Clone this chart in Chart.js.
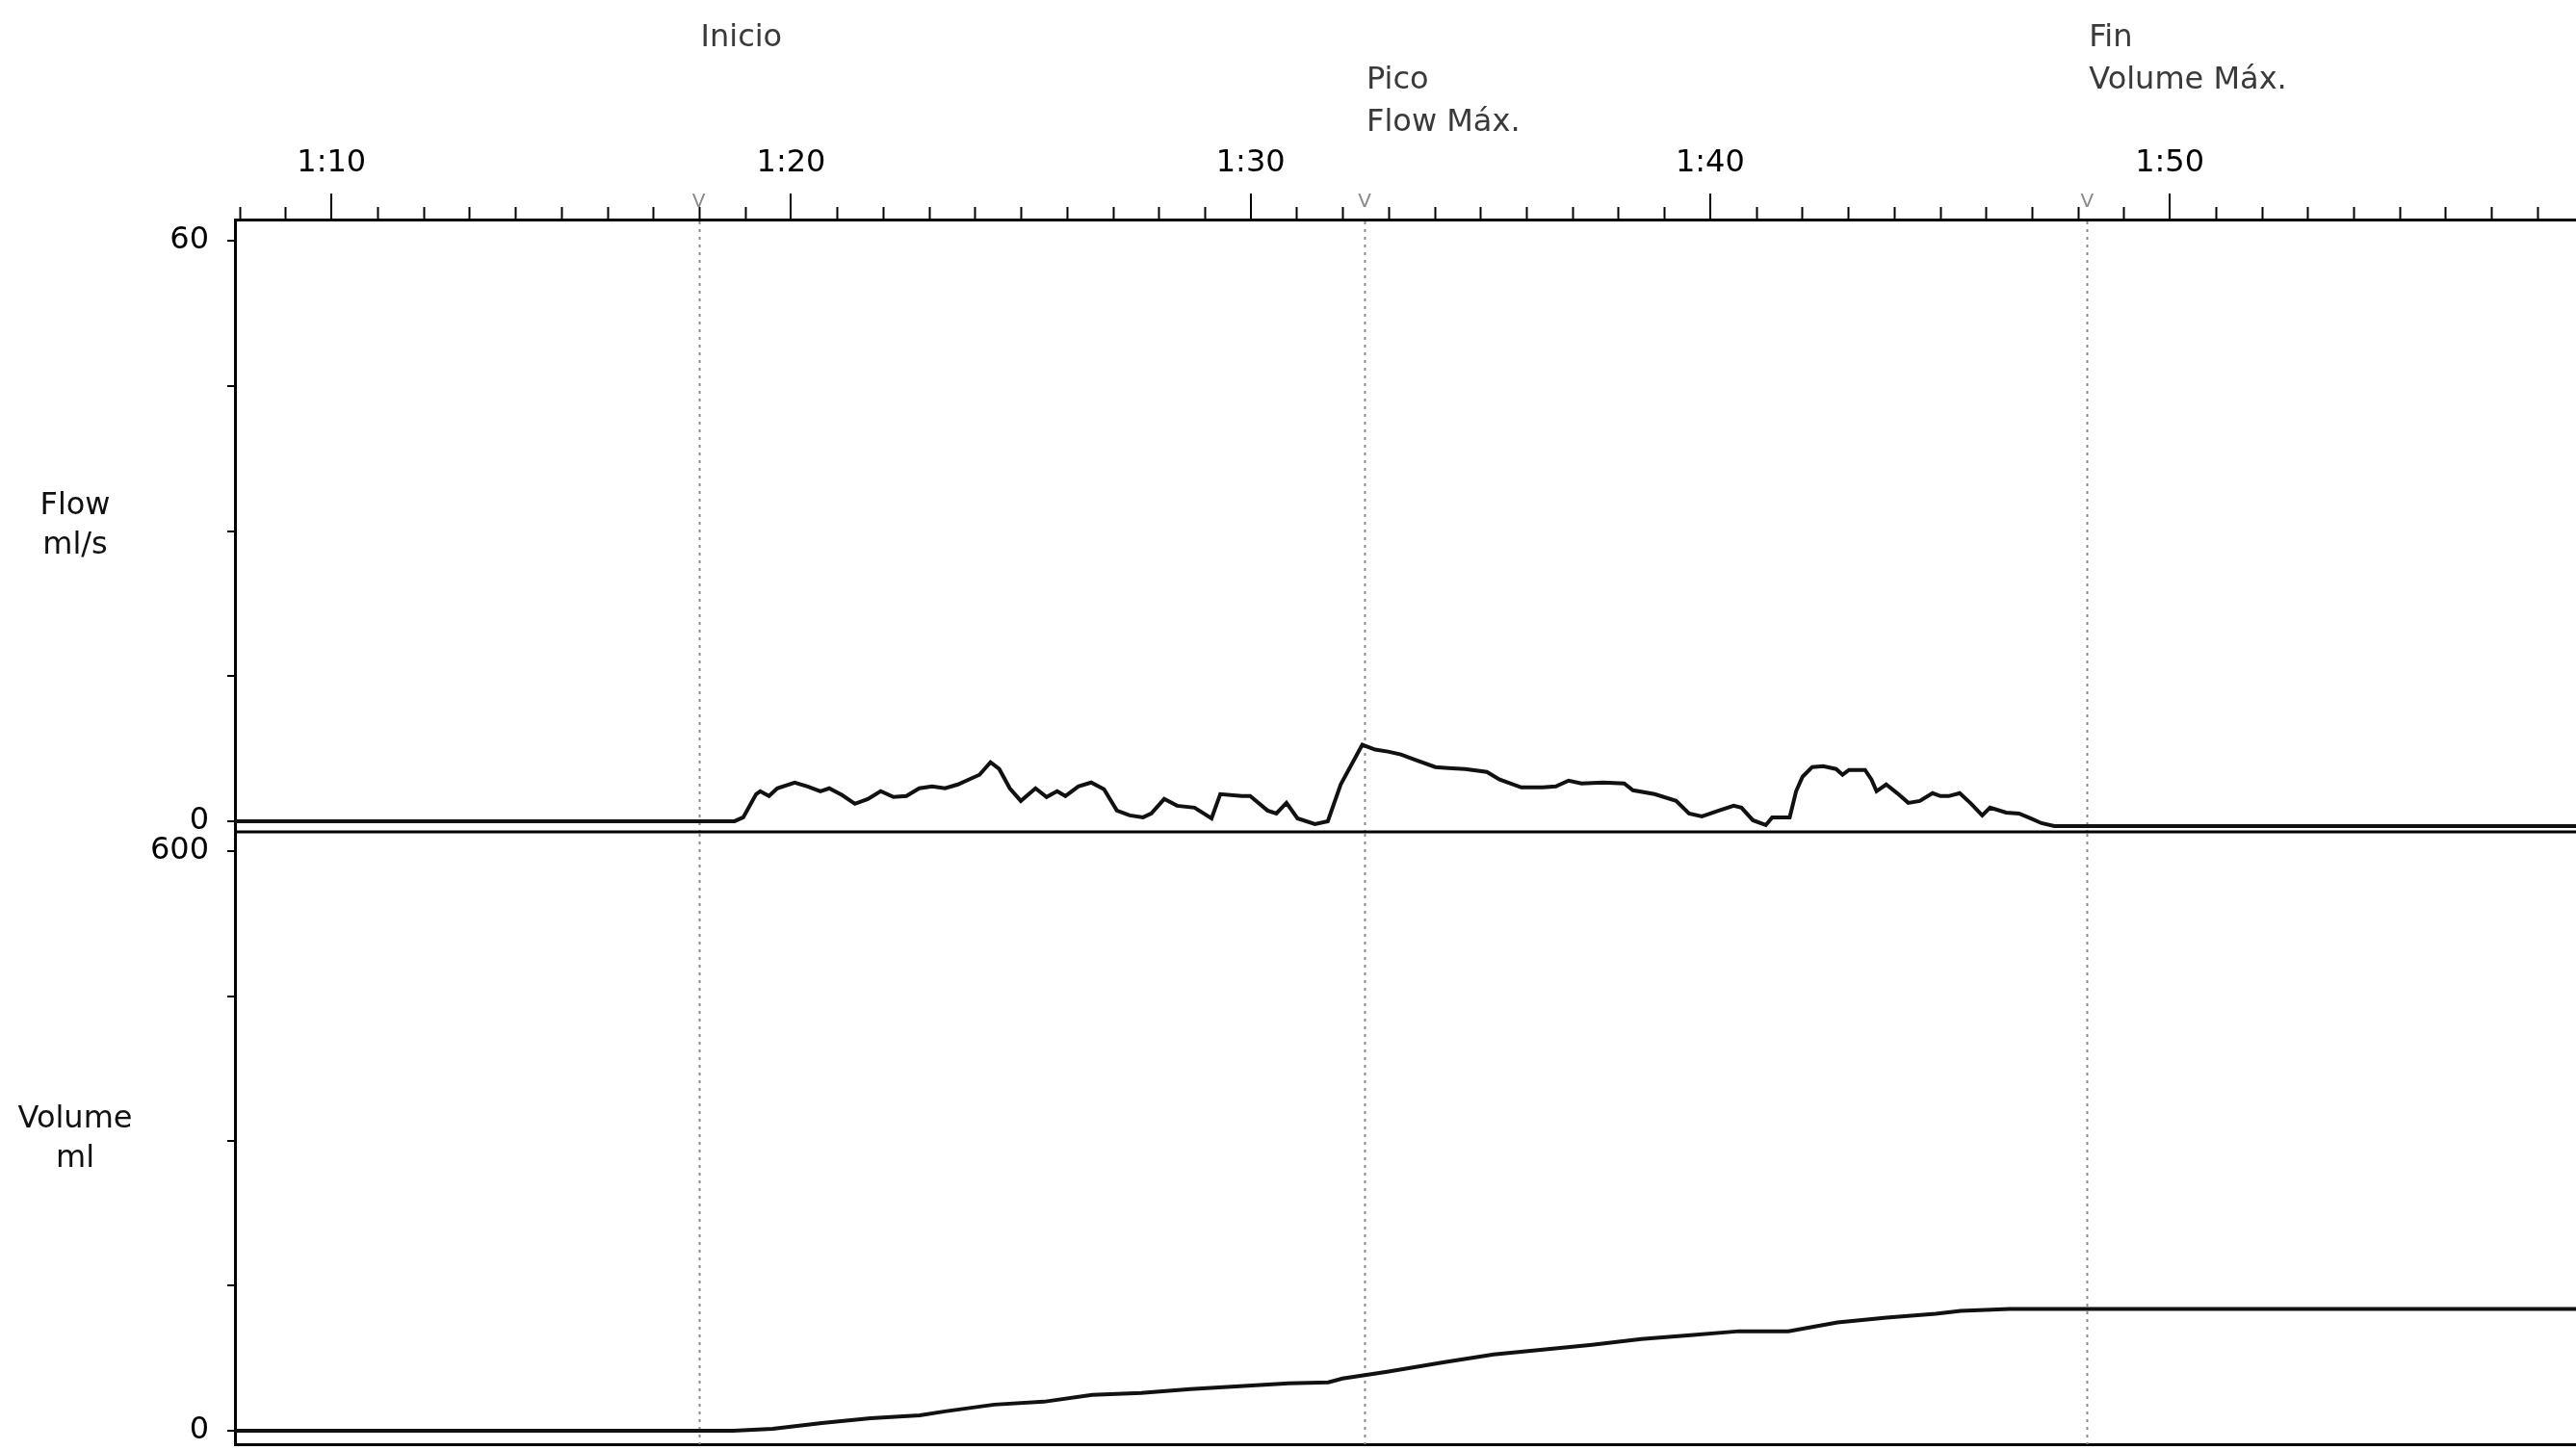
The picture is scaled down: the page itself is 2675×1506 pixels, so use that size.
<!DOCTYPE html>
<html><head><meta charset="utf-8">
<script src="https://cdn.jsdelivr.net/npm/chart.js@4.4.1/dist/chart.umd.min.js"></script>
<style>
html,body{margin:0;padding:0;background:#fff;width:2675px;height:1506px;overflow:hidden;}
#wrap{position:relative;width:2675px;height:1506px;background:#fff;}
canvas{position:absolute;left:0;}
#cFlow{top:0;}
#cVol{top:864px;}
</style></head><body>
<div id="wrap"><canvas id="cFlow" width="2675" height="868"></canvas><canvas id="cVol" width="2675" height="642"></canvas></div>
<script>
// ---- data ----
const timeMin = 67.9, timeMax = 118.84;               // seconds shown on the time axis
const timeTickValues = [70, 80, 90, 100, 110];
const timeTickLabels = ['1:10', '1:20', '1:30', '1:40', '1:50'];
const flowTickValues = [0, 15, 30, 45, 60];
const flowTickLabels = ['0', '', '', '', '60'];
const volumeTickValues = [0, 150, 300, 450, 600];
const volumeTickLabels = ['0', '', '', '', '600'];
const markerTimes = [77.99, 92.48, 108.2];
const markerLabels = [['Inicio'], ['Pico', 'Flow Máx.'], ['Fin', 'Volume Máx.']];
const flowTitle = ['Flow', 'ml/s'];
const volumeTitle = ['Volume', 'ml'];

const flowTimes = [67.9, 77.46, 78.77, 78.96, 79.24, 79.33, 79.52, 79.70, 80.08, 80.36, 80.64, 80.83, 81.11, 81.39, 81.67, 81.95, 82.23, 82.51, 82.79, 83.07, 83.35, 83.63, 83.91, 84.10, 84.34, 84.53, 84.76, 85.00, 85.32, 85.56, 85.79, 85.97, 86.25, 86.53, 86.81, 87.09, 87.37, 87.66, 87.84, 88.12, 88.40, 88.78, 89.15, 89.34, 89.81, 89.99, 90.37, 90.56, 90.78, 91.02, 91.40, 91.68, 91.96, 92.43, 92.71, 92.99, 93.27, 93.55, 94.02, 94.30, 94.67, 95.14, 95.42, 95.89, 96.36, 96.64, 96.92, 97.20, 97.67, 98.13, 98.32, 98.79, 99.26, 99.54, 99.82, 100.19, 100.51, 100.68, 100.93, 101.21, 101.35, 101.73, 101.87, 102.01, 102.22, 102.46, 102.74, 102.88, 103.02, 103.37, 103.51, 103.62, 103.83, 104.07, 104.31, 104.56, 104.84, 105.01, 105.19, 105.43, 105.68, 105.92, 106.09, 106.44, 106.72, 106.97, 107.21, 107.49, 118.84];
const flowValues = [0, 0, 0, 0.4, 2.8, 3.1, 2.6, 3.4, 4.0, 3.6, 3.1, 3.4, 2.7, 1.8, 2.3, 3.1, 2.5, 2.6, 3.4, 3.6, 3.4, 3.8, 4.4, 4.8, 6.1, 5.4, 3.4, 2.1, 3.4, 2.5, 3.1, 2.6, 3.6, 4.0, 3.3, 1.1, 0.6, 0.4, 0.8, 2.3, 1.6, 1.4, 0.3, 2.8, 2.6, 2.6, 1.1, 0.8, 1.9, 0.3, -0.3, 0, 3.8, 7.9, 7.4, 7.2, 6.9, 6.4, 5.6, 5.5, 5.4, 5.1, 4.3, 3.5, 3.5, 3.6, 4.2, 3.9, 4.0, 3.9, 3.2, 2.8, 2.1, 0.8, 0.5, 1.1, 1.6, 1.4, 0.1, -0.4, 0.4, 0.4, 3.1, 4.6, 5.6, 5.7, 5.4, 4.8, 5.3, 5.3, 4.3, 3.1, 3.8, 2.9, 1.9, 2.1, 2.9, 2.6, 2.6, 2.9, 1.8, 0.6, 1.4, 0.9, 0.8, 0.3, -0.2, -0.5, -0.5];

const volumeTimes = [67.9, 78.74, 79.6, 80.67, 81.73, 82.8, 83.35, 84.42, 85.5, 86.55, 87.62, 88.69, 89.76, 90.83, 91.69, 92.0, 92.97, 94.22, 95.29, 96.36, 97.43, 98.5, 99.57, 100.63, 101.7, 102.77, 103.84, 104.91, 105.45, 106.52, 107.6, 118.84];
const volumeValues = [0, 0, 2, 8, 13, 16, 20, 27, 30, 37, 39, 43, 46, 49, 50, 54, 61, 71, 79, 84, 89, 95, 99, 103, 103, 112, 117, 121, 124, 126, 126, 126];

// ---- styling ----
const FONT = "'DejaVu Sans', 'Liberation Sans', sans-serif";
const INK = '#111';

function pairs(xs, ys) { return xs.map((x, i) => ({ x: x, y: ys[i] })); }
function labelFor(values, labels) { return v => { const i = values.indexOf(v); return i >= 0 ? labels[i] : ''; }; }
function zeroPad(s) { s.paddingLeft = 0; s.paddingRight = 0; s.paddingTop = 0; s.paddingBottom = 0; }

function drawMarkerLines(chart, yTop) {
  const { ctx, chartArea: a, scales: { x } } = chart;
  ctx.save();
  ctx.strokeStyle = '#8a8a8a';
  ctx.lineWidth = 2;
  ctx.setLineDash([3, 5]);
  markerTimes.forEach(t => {
    const px = Math.round(x.getPixelForValue(t)) + 0.5;
    ctx.beginPath(); ctx.moveTo(px, yTop); ctx.lineTo(px, a.bottom); ctx.stroke();
  });
  ctx.restore();
}

function drawTitle(ctx, lines, cx, cy) {
  ctx.save();
  ctx.font = '32px ' + FONT;
  ctx.fillStyle = '#111';
  ctx.textAlign = 'center';
  ctx.textBaseline = 'middle';
  lines.forEach((s, i) => ctx.fillText(s, cx, cy + i * 41));
  ctx.restore();
}

const flowDecor = {
  id: 'flowDecor',
  beforeDatasetsDraw(chart) { drawMarkerLines(chart, chart.chartArea.top + 2); },
  afterDraw(chart) {
    const { ctx, chartArea: a, scales: { x } } = chart;
    ctx.save();
    // minor (1 s) ticks on the time axis
    ctx.strokeStyle = '#000';
    ctx.lineWidth = 2;
    for (let s = Math.ceil(x.min); s <= x.max; s++) {
      if (timeTickValues.includes(s)) continue;
      const px = Math.round(x.getPixelForValue(s)) + 0.5;
      ctx.beginPath(); ctx.moveTo(px, a.top); ctx.lineTo(px, a.top - 13); ctx.stroke();
    }
    // separator between the two panels
    ctx.lineWidth = 3;
    ctx.beginPath(); ctx.moveTo(a.left, a.bottom); ctx.lineTo(a.right, a.bottom); ctx.stroke();
    // marker symbols and labels
    const rowStart = [0, 1, 0];
    markerTimes.forEach((t, i) => {
      const px = x.getPixelForValue(t);
      ctx.font = '20px ' + FONT;
      ctx.fillStyle = '#8a8a8a';
      ctx.textAlign = 'center';
      ctx.textBaseline = 'middle';
      ctx.fillText('V', px, a.top - 18);
      ctx.font = '32px ' + FONT;
      ctx.fillStyle = '#3a3a3a';
      ctx.textAlign = 'left';
      markerLabels[i].forEach((s, j) => ctx.fillText(s, px + 2, 40 + (rowStart[i] + j) * 44));
    });
    ctx.restore();
    drawTitle(ctx, flowTitle, 78, 526);
  }
};

const volDecor = {
  id: 'volDecor',
  beforeDatasetsDraw(chart) { drawMarkerLines(chart, chart.chartArea.top + 2); },
  afterDraw(chart) { drawTitle(chart.ctx, volumeTitle, 78, 299); }
};

const lineStyle = { borderColor: INK, borderWidth: 4, pointRadius: 0, tension: 0, fill: false };
const yTickFont = { family: FONT, size: 32 };

new Chart(document.getElementById('cFlow'), {
  type: 'line',
  data: { datasets: [Object.assign({ data: pairs(flowTimes, flowValues) }, lineStyle)] },
  options: {
    responsive: false, devicePixelRatio: 1, animation: false,
    layout: { padding: { left: 0, right: 0, top: 0, bottom: 4 } },
    plugins: { legend: { display: false }, tooltip: { enabled: false } },
    scales: {
      x: {
        type: 'linear', position: 'top', min: timeMin, max: timeMax,
        afterBuildTicks: s => { s.ticks = timeTickValues.map(v => ({ value: v })); },
        afterFit: s => { s.height = 228; zeroPad(s); },
        ticks: { callback: labelFor(timeTickValues, timeTickLabels), font: { family: FONT, size: 32 }, color: '#000', padding: 12, maxRotation: 0, autoSkip: false },
        grid: { drawOnChartArea: false, drawTicks: true, tickLength: 27, color: '#000', lineWidth: 2 },
        border: { display: true, color: '#000', width: 3 }
      },
      y: {
        type: 'linear', min: -1.1, max: 62.2,
        afterBuildTicks: s => { s.ticks = flowTickValues.map(v => ({ value: v })); },
        afterFit: s => { s.width = 244; zeroPad(s); },
        ticks: { callback: labelFor(flowTickValues, flowTickLabels), font: yTickFont, color: '#000', padding: 19, autoSkip: false },
        grid: { drawOnChartArea: false, drawTicks: true, tickLength: 8, color: '#000', lineWidth: 2 },
        border: { display: true, color: '#000', width: 3 }
      }
    }
  },
  plugins: [flowDecor]
});

new Chart(document.getElementById('cVol'), {
  type: 'line',
  data: { datasets: [Object.assign({ data: pairs(volumeTimes, volumeValues) }, lineStyle)] },
  options: {
    responsive: false, devicePixelRatio: 1, animation: false,
    layout: { padding: { left: 0, right: 0, top: 0, bottom: 6 } },
    plugins: { legend: { display: false }, tooltip: { enabled: false } },
    scales: {
      x: {
        type: 'linear', position: 'bottom', min: timeMin, max: timeMax,
        afterFit: s => { s.height = 0; zeroPad(s); },
        ticks: { display: false },
        grid: { display: false, drawTicks: false },
        border: { display: true, color: '#000', width: 3 }
      },
      y: {
        type: 'linear', min: -14, max: 620,
        afterBuildTicks: s => { s.ticks = volumeTickValues.map(v => ({ value: v })); },
        afterFit: s => { s.width = 244; zeroPad(s); },
        ticks: { callback: labelFor(volumeTickValues, volumeTickLabels), font: yTickFont, color: '#000', padding: 19, autoSkip: false },
        grid: { drawOnChartArea: false, drawTicks: true, tickLength: 8, color: '#000', lineWidth: 2 },
        border: { display: true, color: '#000', width: 3 }
      }
    }
  },
  plugins: [volDecor]
});
</script>
</body></html>
